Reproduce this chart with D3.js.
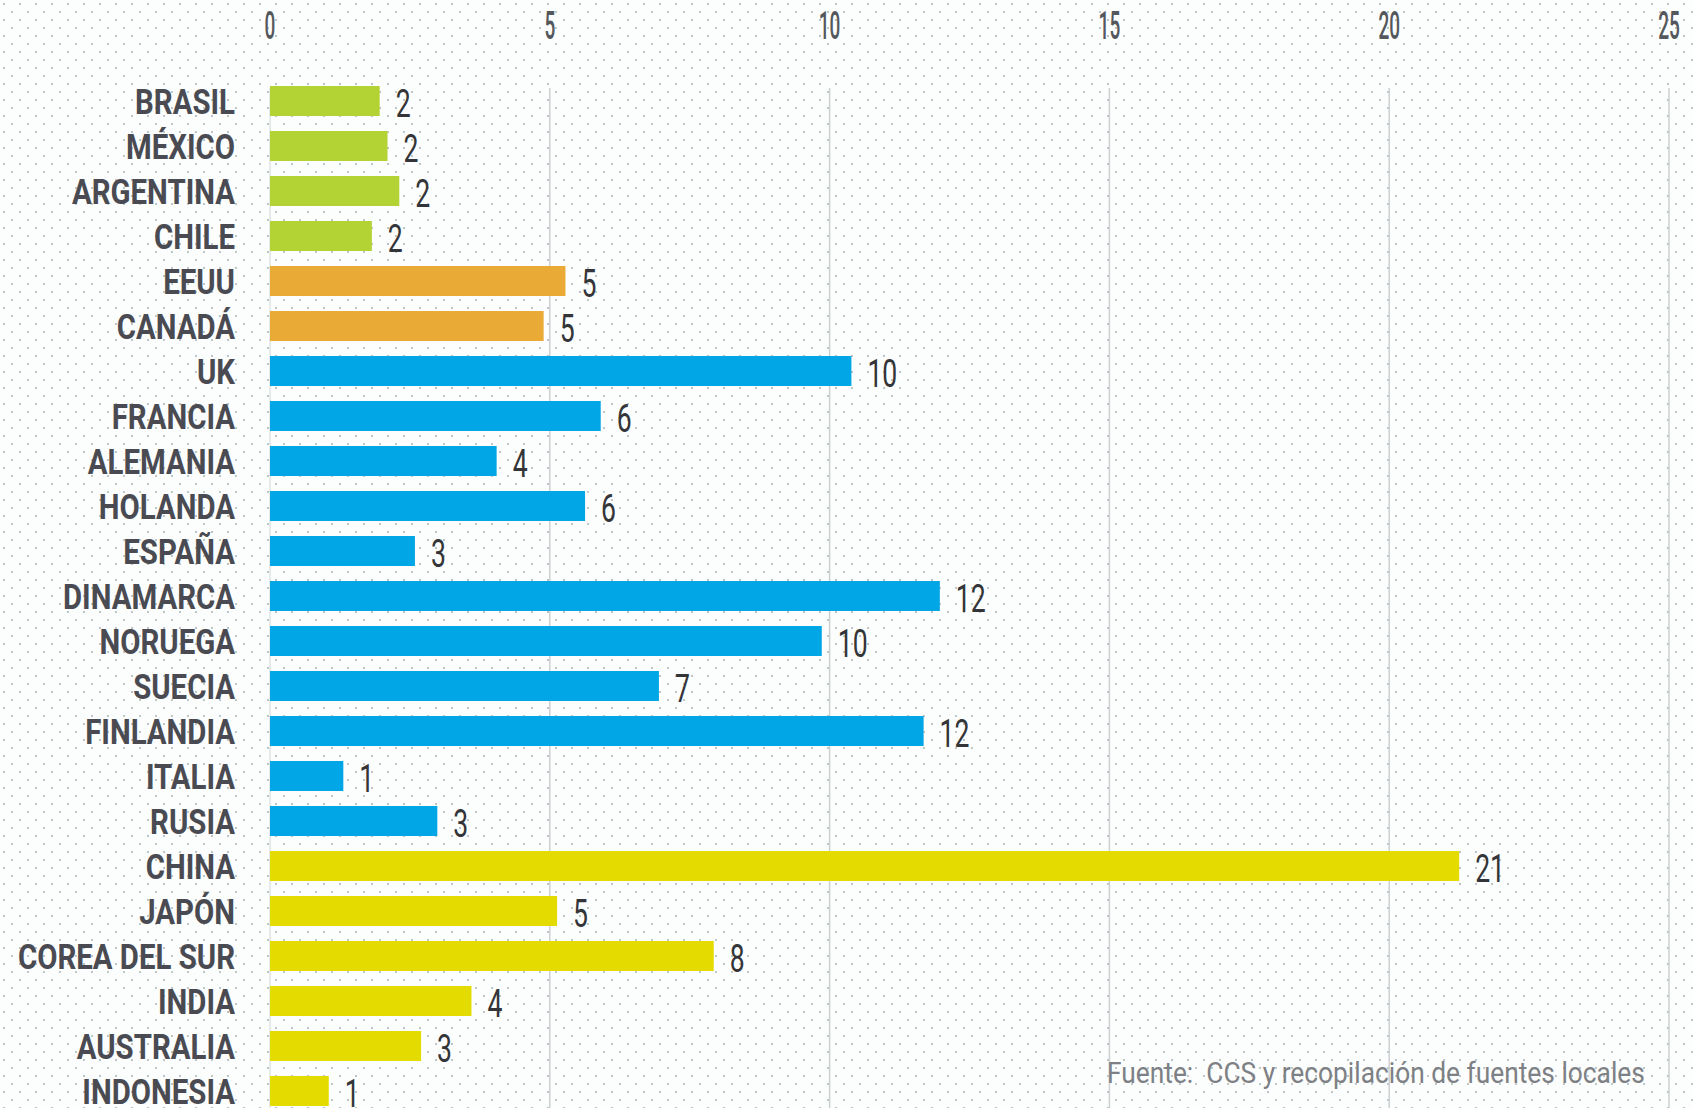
<!DOCTYPE html>
<html>
<head>
<meta charset="utf-8">
<script src="https://cdn.jsdelivr.net/npm/d3@7"></script>
<style>
  html, body { margin: 0; padding: 0; background: #fcfdfd; overflow: hidden; }
  svg { display: block; }
</style>
</head>
<body>
<svg id="chart"></svg>
<script>
// datos
const countries = ["BRASIL", "MÉXICO", "ARGENTINA", "CHILE", "EEUU", "CANADÁ", "UK", "FRANCIA",
  "ALEMANIA", "HOLANDA", "ESPAÑA", "DINAMARCA", "NORUEGA", "SUECIA", "FINLANDIA", "ITALIA",
  "RUSIA", "CHINA", "JAPÓN", "COREA DEL SUR", "INDIA", "AUSTRALIA", "INDONESIA"];
// largo de cada barra (como esta dibujada)
const barValues = [1.96, 2.10, 2.31, 1.82, 5.28, 4.89, 10.39, 5.91, 4.05, 5.63, 2.59, 11.97,
  9.86, 6.95, 11.68, 1.31, 2.99, 21.25, 5.13, 7.93, 3.60, 2.70, 1.05];
// numero impreso al lado
const valueLabels = [2, 2, 2, 2, 5, 5, 10, 6, 4, 6, 3, 12, 10, 7, 12, 1, 3, 21, 5, 8, 4, 3, 1];
const regions = ["latam", "latam", "latam", "latam", "norte", "norte",
  "europa", "europa", "europa", "europa", "europa", "europa", "europa", "europa", "europa", "europa", "europa",
  "asia", "asia", "asia", "asia", "asia", "asia"];
const xTicks = [0, 5, 10, 15, 20, 25];
const source = "Fuente:  CCS y recopilación de fuentes locales";

const regionColor = { latam: "#b3d335", norte: "#e9aa36", europa: "#00a6e6", asia: "#e4dc00" };

const width = 1693, height = 1108;
const svg = d3.select("#chart").attr("width", width).attr("height", height);

// fondo punteado
const defs = svg.append("defs");
const pat = defs.append("pattern")
  .attr("id", "dots").attr("width", 16).attr("height", 16)
  .attr("patternUnits", "userSpaceOnUse");
pat.append("circle").attr("cx", 4).attr("cy", 4).attr("r", 1).attr("fill", "#a9b1b3");
pat.append("circle").attr("cx", 12).attr("cy", 12).attr("r", 1).attr("fill", "#a9b7b6");
svg.append("rect").attr("width", width).attr("height", height).attr("fill", "#fcfdfd");
svg.append("rect").attr("width", width).attr("height", height).attr("fill", "url(#dots)");

const data = countries.map((c, i) => ({
  name: c, value: barValues[i], label: valueLabels[i], region: regions[i]
}));

const x = d3.scaleLinear().domain([0, 25]).range([270, 1669]);
const y = d3.scaleBand().domain(countries).range([78.5, 1113.5])
  .paddingInner(1 / 3).paddingOuter(1 / 6);

// lineas verticales
svg.append("g").attr("class", "grid")
  .selectAll("line")
  .data(xTicks)
  .enter().append("line")
  .attr("x1", d => x(d)).attr("x2", d => x(d))
  .attr("y1", 88).attr("y2", height)
  .attr("stroke", d => d === 0 ? "#e0e3e4" : "#cdd0d2")
  .attr("stroke-width", 1.5);

// etiquetas del eje arriba
svg.append("g").attr("class", "x-labels")
  .selectAll("text")
  .data(xTicks)
  .enter().append("text")
  .attr("transform", d => `translate(${x(d)},39) scale(0.5,1)`)
  .attr("text-anchor", "middle")
  .attr("font-family", "Roboto, sans-serif")
  .attr("font-weight", 500)
  .attr("font-size", 38)
  .attr("fill", "#54585c")
  .text(d => d);

// barras
svg.append("g").attr("class", "bars")
  .selectAll("rect")
  .data(data)
  .enter().append("rect")
  .attr("x", x(0))
  .attr("y", d => y(d.name))
  .attr("width", d => x(d.value) - x(0))
  .attr("height", y.bandwidth())
  .attr("fill", d => regionColor[d.region]);

// nombres de paises
svg.append("g").attr("class", "country-labels")
  .selectAll("text")
  .data(data)
  .enter().append("text")
  .attr("transform", d => `translate(235,${y(d.name) + y.bandwidth() / 2 + 12.5}) scale(0.84,1)`)
  .attr("text-anchor", "end")
  .attr("font-family", "Roboto, sans-serif")
  .attr("font-weight", 700)
  .attr("font-size", 35)
  .attr("fill", "#4a4b52")
  .text(d => d.name);

// valores
svg.append("g").attr("class", "value-labels")
  .selectAll("text")
  .data(data)
  .enter().append("text")
  .attr("transform", d => `translate(${x(d.value) + 16},${y(d.name) + y.bandwidth() + 1}) scale(0.7,1)`)
  .attr("font-family", "Roboto, sans-serif")
  .attr("font-size", 38)
  .attr("fill", "#343538")
  .text(d => d.label);

// fuente: se angosta para que ocupe ~538px
const src = svg.append("text")
  .attr("font-family", "Roboto, sans-serif")
  .attr("font-size", 29)
  .attr("fill", "#7d8084")
  .style("white-space", "pre")
  .text(source);
const srcLen = src.node().getComputedTextLength() || 600;
src.attr("transform", `translate(1107,1083) scale(${538 / srcLen},1)`);
</script>
</body>
</html>
